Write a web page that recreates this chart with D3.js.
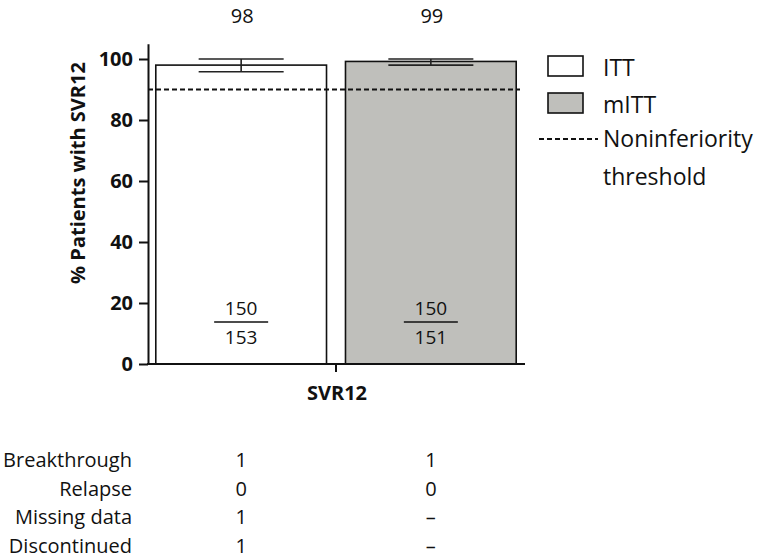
<!DOCTYPE html>
<html>
<head>
<meta charset="utf-8">
<script src="https://cdn.jsdelivr.net/npm/d3@7"></script>
<style>
  body { margin: 0; background: #fff; }
  svg { font-family: "Open Sans", sans-serif; }
</style>
</head>
<body>
<script>
// SVR12 by analysis population
var groups = ['ITT', 'mITT'];
var svrValues = [98, 99.2];
var svrLabels = ['98', '99'];
var ciLow = [95.8, 98];
var ciHigh = [100, 100];
var responders = [150, 150];
var totals = [153, 151];
var barFills = ['#ffffff', '#bfbfbb'];
var threshold = 90;
var yTicks = [0, 20, 40, 60, 80, 100];

// Reasons for failure table
var failureRows = ['Breakthrough', 'Relapse', 'Missing data', 'Discontinued'];
var failureITT = ['1', '0', '1', '1'];
var failureMITT = ['1', '0', '\u2013', '\u2013'];

var width = 762, height = 559;
var svg = d3.select('body').append('svg')
  .attr('width', width).attr('height', height);

var plot = { left: 148, right: 525, top: 43.75, bottom: 364 };

var y = d3.scaleLinear().domain([0, 105]).range([plot.bottom, plot.top]);
var x = d3.scaleBand().domain(groups).range([152, 520]).paddingInner(0.1).paddingOuter(0.02);

// Bars
svg.selectAll('rect.bar').data(groups).enter().append('rect')
  .attr('class', 'bar')
  .attr('x', d => x(d))
  .attr('width', x.bandwidth())
  .attr('y', (d, i) => y(svrValues[i]))
  .attr('height', (d, i) => y(0) - y(svrValues[i]))
  .attr('fill', (d, i) => barFills[i])
  .attr('stroke', '#111').attr('stroke-width', 1.6);

// Error bars, labels, fractions
var capHalf = 42.5;
groups.forEach((g, i) => {
  var cx = x(g) + x.bandwidth() / 2;
  var eb = svg.append('g').attr('stroke', '#222').attr('stroke-width', 1.6);
  eb.append('line').attr('x1', cx).attr('x2', cx).attr('y1', y(ciLow[i])).attr('y2', y(ciHigh[i]));
  eb.append('line').attr('x1', cx - capHalf).attr('x2', cx + capHalf).attr('y1', y(ciLow[i])).attr('y2', y(ciLow[i]));
  eb.append('line').attr('x1', cx - capHalf).attr('x2', cx + capHalf).attr('y1', y(ciHigh[i])).attr('y2', y(ciHigh[i]));

  svg.append('text').attr('x', cx + 1).attr('y', 22.5).attr('text-anchor', 'middle')
    .attr('font-size', 20).attr('fill', '#111').text(svrLabels[i]);

  svg.append('text').attr('x', cx).attr('y', 315).attr('text-anchor', 'middle')
    .attr('font-size', 19).attr('fill', '#111').text(responders[i]);
  svg.append('line').attr('x1', cx - 27).attr('x2', cx + 27).attr('y1', 322).attr('y2', 322)
    .attr('stroke', '#111').attr('stroke-width', 1.4);
  svg.append('text').attr('x', cx).attr('y', 344).attr('text-anchor', 'middle')
    .attr('font-size', 19).attr('fill', '#111').text(totals[i]);
});

// Noninferiority threshold
svg.append('line')
  .attr('x1', plot.left).attr('x2', 520)
  .attr('y1', y(threshold)).attr('y2', y(threshold))
  .attr('stroke', '#111').attr('stroke-width', 2).attr('stroke-dasharray', '5,3');

// Y axis
var yAxis = svg.append('g').attr('transform', 'translate(' + plot.left + ',0)')
  .call(d3.axisLeft(y).tickValues(yTicks).tickSize(9).tickPadding(6).tickSizeOuter(0));
yAxis.select('.domain').attr('stroke', '#111').attr('stroke-width', 2);
yAxis.selectAll('.tick line').attr('stroke', '#111').attr('stroke-width', 2);
yAxis.selectAll('.tick text').attr('font-size', 20).attr('font-weight', 'bold')
  .attr('fill', '#111').style('font-family', '"Open Sans", sans-serif');

svg.append('text')
  .attr('transform', 'translate(85,173) rotate(-90)')
  .attr('text-anchor', 'middle').attr('font-size', 20).attr('font-weight', 'bold')
  .attr('fill', '#111').text('% Patients with SVR12');

// X axis
svg.append('line').attr('x1', plot.left - 1).attr('x2', plot.right)
  .attr('y1', plot.bottom).attr('y2', plot.bottom)
  .attr('stroke', '#111').attr('stroke-width', 2);
svg.append('line').attr('x1', 336).attr('x2', 336)
  .attr('y1', plot.bottom).attr('y2', plot.bottom + 8)
  .attr('stroke', '#111').attr('stroke-width', 2);
svg.append('text').attr('x', 337).attr('y', 400).attr('text-anchor', 'middle')
  .attr('font-size', 20).attr('font-weight', 'bold').attr('fill', '#111').text('SVR12');

// Legend
var legend = svg.append('g');
groups.forEach((g, i) => {
  var ly = 56 + i * 37;
  legend.append('rect').attr('x', 548).attr('y', ly).attr('width', 35).attr('height', 20)
    .attr('fill', barFills[i]).attr('stroke', '#111').attr('stroke-width', 1.6);
  legend.append('text').attr('x', 603).attr('y', ly + 20).attr('font-size', 23)
    .attr('fill', '#111').text(g);
});
legend.append('line').attr('x1', 539).attr('x2', 598).attr('y1', 139).attr('y2', 139)
  .attr('stroke', '#111').attr('stroke-width', 2).attr('stroke-dasharray', '5,3');
legend.append('text').attr('x', 603).attr('y', 147).attr('font-size', 23)
  .attr('fill', '#111').text('Noninferiority');
legend.append('text').attr('x', 603).attr('y', 185).attr('font-size', 23)
  .attr('fill', '#111').text('threshold');

// Failure table
var rowY = d3.scalePoint().domain(failureRows).range([467, 553]);
failureRows.forEach((r, i) => {
  svg.append('text').attr('x', 132).attr('y', rowY(r)).attr('text-anchor', 'end')
    .attr('font-size', 20).attr('fill', '#111').text(r);
  svg.append('text').attr('x', x('ITT') + x.bandwidth() / 2).attr('y', rowY(r))
    .attr('text-anchor', 'middle').attr('font-size', 20).attr('fill', '#111').text(failureITT[i]);
  svg.append('text').attr('x', x('mITT') + x.bandwidth() / 2).attr('y', rowY(r))
    .attr('text-anchor', 'middle').attr('font-size', 20).attr('fill', '#111').text(failureMITT[i]);
});
</script>
</body>
</html>
